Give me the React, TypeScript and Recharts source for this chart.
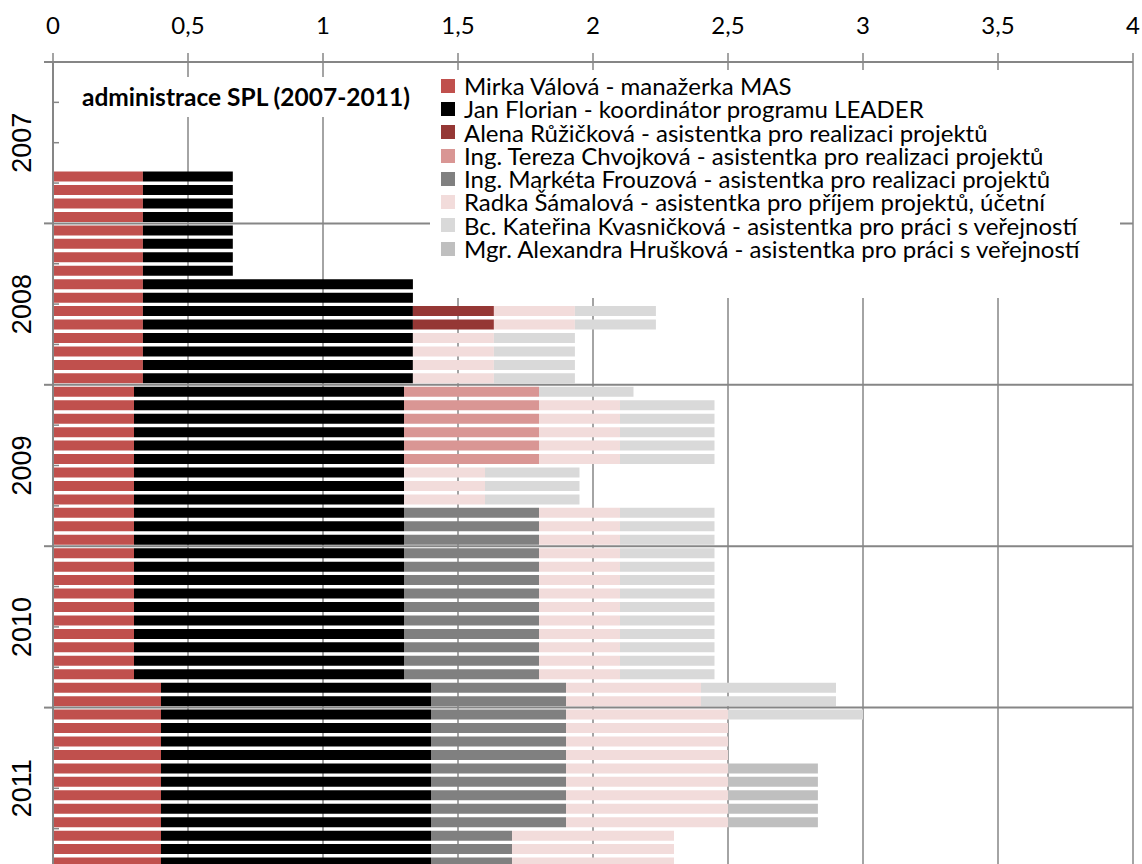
import React from "react";
import { BarChart, Bar, XAxis, YAxis, CartesianGrid, ReferenceLine, Legend } from "recharts";

const YEARS = ["2007", "2008", "2009", "2010", "2011"];
const MONTHS = ["01", "02", "03", "04", "05", "06", "07", "08", "09", "10", "11", "12"];
const CATEGORIES = YEARS.flatMap((y) => MONTHS.map((m) => `${y}-${m}`));
const X_TICKS = [0, 0.5, 1, 1.5, 2, 2.5, 3, 3.5, 4];
const TITLE = "administrace SPL (2007-2011)";

// úvazky po měsících, leden 2007 .. prosinec 2011 (jeden řádek = jeden rok)
const MIRKA = [
  0, 0, 0, 0, 0, 0, 0, 0, 0.333, 0.333, 0.333, 0.333,
  0.333, 0.333, 0.333, 0.333, 0.333, 0.333, 0.333, 0.333, 0.333, 0.333, 0.333, 0.333,
  0.3, 0.3, 0.3, 0.3, 0.3, 0.3, 0.3, 0.3, 0.3, 0.3, 0.3, 0.3,
  0.3, 0.3, 0.3, 0.3, 0.3, 0.3, 0.3, 0.3, 0.3, 0.3, 0.4, 0.4,
  0.4, 0.4, 0.4, 0.4, 0.4, 0.4, 0.4, 0.4, 0.4, 0.4, 0.4, 0.4,
];
const FLORIAN = [
  0, 0, 0, 0, 0, 0, 0, 0, 0.333, 0.333, 0.333, 0.333,
  0.333, 0.333, 0.333, 0.333, 1, 1, 1, 1, 1, 1, 1, 1,
  1, 1, 1, 1, 1, 1, 1, 1, 1, 1, 1, 1,
  1, 1, 1, 1, 1, 1, 1, 1, 1, 1, 1, 1,
  1, 1, 1, 1, 1, 1, 1, 1, 1, 1, 1, 1,
];
const RUZICKOVA = [
  0, 0, 0, 0, 0, 0, 0, 0, 0, 0, 0, 0,
  0, 0, 0, 0, 0, 0, 0.3, 0.3, 0, 0, 0, 0,
  0, 0, 0, 0, 0, 0, 0, 0, 0, 0, 0, 0,
  0, 0, 0, 0, 0, 0, 0, 0, 0, 0, 0, 0,
  0, 0, 0, 0, 0, 0, 0, 0, 0, 0, 0, 0,
];
const CHVOJKOVA = [
  0, 0, 0, 0, 0, 0, 0, 0, 0, 0, 0, 0,
  0, 0, 0, 0, 0, 0, 0, 0, 0, 0, 0, 0,
  0.5, 0.5, 0.5, 0.5, 0.5, 0.5, 0, 0, 0, 0, 0, 0,
  0, 0, 0, 0, 0, 0, 0, 0, 0, 0, 0, 0,
  0, 0, 0, 0, 0, 0, 0, 0, 0, 0, 0, 0,
];
const FROUZOVA = [
  0, 0, 0, 0, 0, 0, 0, 0, 0, 0, 0, 0,
  0, 0, 0, 0, 0, 0, 0, 0, 0, 0, 0, 0,
  0, 0, 0, 0, 0, 0, 0, 0, 0, 0.5, 0.5, 0.5,
  0.5, 0.5, 0.5, 0.5, 0.5, 0.5, 0.5, 0.5, 0.5, 0.5, 0.5, 0.5,
  0.5, 0.5, 0.5, 0.5, 0.5, 0.5, 0.5, 0.5, 0.5, 0.3, 0.3, 0.3,
];
const SAMALOVA = [
  0, 0, 0, 0, 0, 0, 0, 0, 0, 0, 0, 0,
  0, 0, 0, 0, 0, 0, 0.3, 0.3, 0.3, 0.3, 0.3, 0.3,
  0, 0.3, 0.3, 0.3, 0.3, 0.3, 0.3, 0.3, 0.3, 0.3, 0.3, 0.3,
  0.3, 0.3, 0.3, 0.3, 0.3, 0.3, 0.3, 0.3, 0.3, 0.3, 0.5, 0.5,
  0.6, 0.6, 0.6, 0.6, 0.6, 0.6, 0.6, 0.6, 0.6, 0.6, 0.6, 0.6,
];
const KVASNICKOVA = [
  0, 0, 0, 0, 0, 0, 0, 0, 0, 0, 0, 0,
  0, 0, 0, 0, 0, 0, 0.3, 0.3, 0.3, 0.3, 0.3, 0.3,
  0.35, 0.35, 0.35, 0.35, 0.35, 0.35, 0.35, 0.35, 0.35, 0.35, 0.35, 0.35,
  0.35, 0.35, 0.35, 0.35, 0.35, 0.35, 0.35, 0.35, 0.35, 0.35, 0.5, 0.5,
  0.5, 0, 0, 0, 0, 0, 0, 0, 0, 0, 0, 0,
];
const HRUSKOVA = [
  0, 0, 0, 0, 0, 0, 0, 0, 0, 0, 0, 0,
  0, 0, 0, 0, 0, 0, 0, 0, 0, 0, 0, 0,
  0, 0, 0, 0, 0, 0, 0, 0, 0, 0, 0, 0,
  0, 0, 0, 0, 0, 0, 0, 0, 0, 0, 0, 0,
  0, 0, 0, 0, 0.333, 0.333, 0.333, 0.333, 0.333, 0, 0, 0,
];

const SERIES_KEYS = ["mirka", "florian", "ruzickova", "chvojkova", "frouzova", "samalova", "kvasnickova", "hruskova"];
const SERIES_NAMES = [
  "Mirka Válová - manažerka MAS",
  "Jan Florian - koordinátor programu LEADER",
  "Alena Růžičková - asistentka pro realizaci projektů",
  "Ing. Tereza Chvojková - asistentka pro realizaci projektů",
  "Ing. Markéta Frouzová - asistentka pro realizaci projektů",
  "Radka Šámalová - asistentka pro příjem projektů, účetní",
  "Bc. Kateřina Kvasničková - asistentka pro práci s veřejností",
  "Mgr. Alexandra Hrušková - asistentka pro práci s veřejností",
];
const SERIES_VALUES = [MIRKA, FLORIAN, RUZICKOVA, CHVOJKOVA, FROUZOVA, SAMALOVA, KVASNICKOVA, HRUSKOVA];
const SERIES_COLORS = ["#c0504d", "#000000", "#953735", "#d99694", "#808080", "#f2dcdb", "#d9d9d9", "#bfbfbf"];

const data = CATEGORIES.map((month, i) => {
  const row: Record<string, string | number> = { month };
  SERIES_KEYS.forEach((k, s) => {
    row[k] = SERIES_VALUES[s][i];
  });
  return row;
});

const W = 1142;
const H = 870;
const PLOT_TOP = 62;
const PLOT_LEFT = 53;
const PLOT_RIGHT = 1133;
const X_AXIS_H = 40;
const BAND = (H - 1 - PLOT_TOP) / CATEGORIES.length;
const GRID = "#868686";
const FONT = "Lato, 'Open Sans', sans-serif";

const XTick = (props: any) => {
  const { x, y, payload } = props;
  return (
    <text x={x} y={y} textAnchor="middle" fontSize={24} fill="#000" fontFamily={FONT}>
      {String(payload.value).replace(".", ",")}
    </text>
  );
};

const YTick = (props: any) => {
  const { y, index } = props;
  const top = y - BAND / 2;
  return (
    <g>
      {index % 12 === 0 && <line x1={44} x2={PLOT_LEFT} y1={top} y2={top} stroke={GRID} strokeWidth={2} />}
      {index % 3 === 0 && index % 12 !== 0 && (
        <line x1={PLOT_LEFT} x2={PLOT_LEFT + 6} y1={top} y2={top} stroke={GRID} strokeWidth={1.5} />
      )}
      {index % 12 === 6 && (
        <text
          x={22}
          y={top}
          transform={`rotate(-90 22 ${top})`}
          textAnchor="middle"
          dominantBaseline="central"
          fontSize={27}
          fontFamily="'Liberation Sans', Arial, sans-serif"
          fill="#000"
        >
          {YEARS[Math.floor(index / 12)]}
        </text>
      )}
    </g>
  );
};

const LegendBox = () => (
  <div style={{ padding: "4px 0 0 11px", fontFamily: FONT, fontSize: 24, lineHeight: "23.3px", color: "#000" }}>
    {SERIES_NAMES.map((name, i) => (
      <div key={name} style={{ display: "flex", alignItems: "center", height: 23.3, whiteSpace: "nowrap" }}>
        <span style={{ width: 14, height: 14, background: SERIES_COLORS[i], marginRight: 9, flex: "none" }} />
        <span style={{ display: "block", height: 23.3, lineHeight: "23.3px" }}>{name}</span>
      </div>
    ))}
  </div>
);

export default function App() {
  return (
    <div style={{ position: "absolute", left: 0, top: 0, width: 1142, height: 864, overflow: "hidden", background: "#fff" }}>
      <BarChart
        width={W}
        height={H}
        data={data}
        layout="vertical"
        barSize={10}
        margin={{ top: PLOT_TOP - X_AXIS_H, right: W - PLOT_RIGHT, bottom: 1, left: 0 }}
      >
        <CartesianGrid horizontal={false} stroke={GRID} strokeWidth={1.5} />
        <XAxis
          type="number"
          orientation="top"
          domain={[0, 4]}
          ticks={X_TICKS}
          height={X_AXIS_H}
          tickSize={9}
          tickMargin={19}
          axisLine={{ stroke: GRID, strokeWidth: 2 }}
          tickLine={{ stroke: GRID, strokeWidth: 1.5 }}
          tick={(p: any) => <XTick {...p} />}
        />
        <YAxis
          type="category"
          dataKey="month"
          width={PLOT_LEFT}
          interval={0}
          tickLine={false}
          axisLine={{ stroke: GRID, strokeWidth: 2 }}
          tick={(p: any) => <YTick {...p} />}
        />
        {SERIES_KEYS.map((k, i) => (
          <Bar key={k} dataKey={k} name={SERIES_NAMES[i]} stackId="a" fill={SERIES_COLORS[i]} isAnimationActive={false} />
        ))}
        {YEARS.slice(1).map((y) => (
          <ReferenceLine key={y} y={`${y}-01`} position="start" stroke={GRID} strokeWidth={2} />
        ))}
        <Legend
          layout="vertical"
          align="center"
          verticalAlign="middle"
          wrapperStyle={{ left: 430, top: 70, width: 690, height: 228, background: "#fff" }}
          content={() => <LegendBox />}
        />
      </BarChart>
      <div
        style={{
          position: "absolute",
          left: 76,
          top: 77,
          width: 346,
          height: 40,
          lineHeight: "40px",
          paddingLeft: 6,
          boxSizing: "border-box",
          background: "#fff",
          fontFamily: FONT,
          fontWeight: 700,
          fontSize: 24.5,
          color: "#000",
        }}
      >
        {TITLE}
      </div>
    </div>
  );
}
